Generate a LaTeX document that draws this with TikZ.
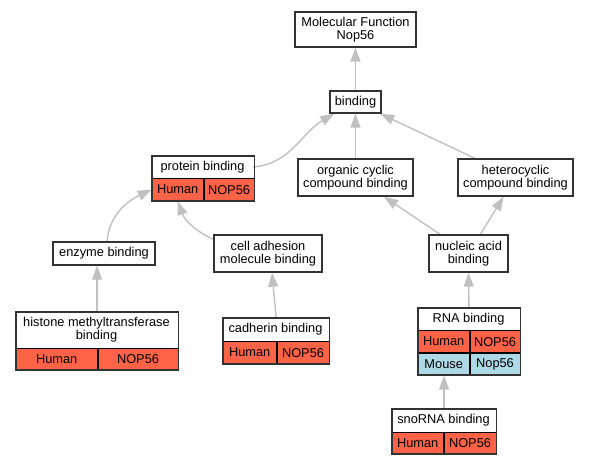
\documentclass[tikz,border=0pt]{standalone}
\usepackage{fontspec}
\setmainfont{Liberation Sans}
\usepackage{tikz}
\usetikzlibrary{arrows.meta,positioning,fit,backgrounds}
\definecolor{human}{HTML}{FF6347}
\definecolor{mouse}{HTML}{ADD8E6}
\definecolor{linkgray}{HTML}{C0C0C0}
\tikzset{
    %Define style for boxes
    term/.style={
           rectangle,
           draw=black!80, line width=1.4pt,
           fill=white,
           inner sep=0pt,
           font=\fontsize{12.8}{12.7}\selectfont,
           align=center},
    title/.style={
           rectangle,
           fill=white,
           inner sep=0pt,
           font=\fontsize{12.8}{12.7}\selectfont,
           align=center},
    cell/.style={
           rectangle,
           draw=black, line width=0.8pt,
           inner sep=0pt,
           font=\fontsize{12.8}{12.7}\selectfont},
    frame/.style={
           rectangle,
           draw=black!80, line width=1.4pt,
           inner sep=0pt},
    % Define arrow style
    link/.style={
           -{Triangle[length=14pt,width=10pt]},
           color=linkgray, line width=1.4pt}
}
\begin{document}
\begin{tikzpicture}[x=1pt,y=1pt]
\useasboundingbox (0,0) rectangle (589,-464);
\node[term, minimum width=121pt, minimum height=35pt] (mf) at (355.5,-29.5) {Molecular Function\\Nop56};
\node[term, minimum width=51pt, minimum height=22pt] (binding) at (355.5,-102) {binding};
\node[term, minimum width=115pt, minimum height=37pt] (organic) at (355.5,-177.5) {organic cyclic\\compound binding};
\node[term, minimum width=115pt, minimum height=37pt] (hetero) at (515.5,-177.5) {heterocyclic\\compound binding};
\node[term, minimum width=102pt, minimum height=23pt] (enzyme) at (104,-253.5) {enzyme binding};
\node[term, minimum width=108pt, minimum height=37pt] (celladh) at (268,-253.5) {cell adhesion\\molecule binding};
\node[term, minimum width=79pt, minimum height=37pt] (nucleic) at (468.5,-253.5) {nucleic acid\\binding};
% protein binding
\node[title, minimum width=101pt, minimum height=22pt] (prot) at (202.5,-167) {protein binding};
\node[cell, fill=human, minimum width=51pt, minimum height=22pt, below right=0pt of prot.south west] (protH) {Human};
\node[cell, fill=human, minimum width=50pt, minimum height=22pt, right=0pt of protH] (protG) {NOP56};
\node[frame, fit=(prot)(protH)(protG)] (protT) {};
% histone methyltransferase binding
\node[title, minimum width=161pt, minimum height=36pt] (hist) at (96.5,-330) {histone methyltransferase\\binding};
\node[cell, fill=human, minimum width=81pt, minimum height=21pt, below right=0pt of hist.south west] (histH) {Human};
\node[cell, fill=human, minimum width=80pt, minimum height=21pt, right=0pt of histH] (histG) {NOP56};
\node[frame, fit=(hist)(histH)(histG)] (histT) {};
% cadherin binding
\node[title, minimum width=105pt, minimum height=23pt] (cad) at (275.5,-329.5) {cadherin binding};
\node[cell, fill=human, minimum width=53pt, minimum height=22pt, below right=0pt of cad.south west] (cadH) {Human};
\node[cell, fill=human, minimum width=52pt, minimum height=22pt, right=0pt of cadH] (cadG) {NOP56};
\node[frame, fit=(cad)(cadH)(cadG)] (cadT) {};
% RNA binding
\node[title, minimum width=101pt, minimum height=22pt] (rna) at (468.5,-319) {RNA binding};
\node[cell, fill=human, minimum width=51pt, minimum height=22pt, below right=0pt of rna.south west] (rnaH) {Human};
\node[cell, fill=human, minimum width=50pt, minimum height=22pt, right=0pt of rnaH] (rnaG) {NOP56};
\node[cell, fill=mouse, minimum width=51pt, minimum height=21pt, below right=0pt of rnaH.south west] (rnaM) {Mouse};
\node[cell, fill=mouse, minimum width=50pt, minimum height=21pt, right=0pt of rnaM] (rnaMG) {Nop56};
\node[frame, fit=(rna)(rnaH)(rnaMG)] (rnaT) {};
% snoRNA binding
\node[title, minimum width=103pt, minimum height=23pt] (sno) at (443.5,-420.5) {snoRNA binding};
\node[cell, fill=human, minimum width=51pt, minimum height=21pt, below right=0pt of sno.south west] (snoH) {Human};
\node[cell, fill=human, minimum width=52pt, minimum height=21pt, right=0pt of snoH] (snoG) {NOP56};
\node[frame, fit=(sno)(snoH)(snoG)] (snoT) {};
\begin{scope}[on background layer]
\path[link]
    (binding) edge (mf)
    (organic) edge (binding)
    (hetero) edge (binding)
    (prot.east) edge[out=5,in=210] ([xshift=5pt]binding.south west)
    ([xshift=3pt]enzyme.north) edge[out=85,in=205] (protH.west)
    ([yshift=-5pt]celladh.north west) edge[out=155,in=-70] (protH.south)
    (nucleic) edge (organic)
    (nucleic) edge (hetero)
    (rnaT) edge (nucleic);
\draw[link] (histT.north) -- (histT.north |- enzyme.south);
\draw[link] (cadT.north) to[out=95,in=-85] ([xshift=4pt]celladh.south);
\draw[link] (snoT.north) -- (snoT.north |- rnaT.south);
\end{scope}
\end{tikzpicture}
\end{document}
